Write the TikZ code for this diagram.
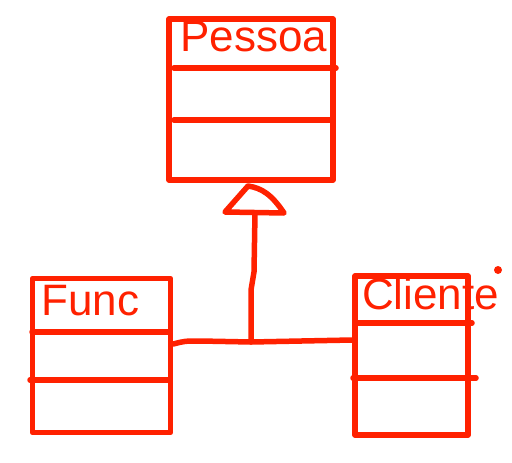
\documentclass[tikz,border=0pt]{standalone}
\usepackage{fontspec}
\setmainfont{Liberation Sans}
\definecolor{ink}{rgb}{1,0.13,0}
\begin{document}
\begin{tikzpicture}[x=1pt,y=-1pt,
  pen/.style={draw=ink,line width=5.5pt,line cap=round,line join=round},
  cls/.style={pen,rectangle,inner sep=0pt},
  title/.style={anchor=base west,inner sep=0pt,text=ink,font=\fontsize{44}{44}\selectfont}]
\useasboundingbox (0,0) rectangle (512,463);
% classes
\node[cls,minimum width=164pt,minimum height=161pt] (pessoa) at (251,99.5) {};
\node[title] (tpessoa) at (180,51) {Pessoa};
\draw[pen] (174,68) -- (336,68);
\draw[pen] (174,120) -- (333,120);

\node[cls,minimum width=138pt,minimum height=154pt] (func) at (101.5,355.5) {};
\node[title] (tfunc) at (41,315) {Func};
\draw[pen] (32,332) -- (170,332);
\draw[pen] (30,380) -- (170,380);

\node[cls,minimum width=113pt,minimum height=159pt] (cliente) at (411.5,355.5) {};
\node[title] (tcliente) at (362,309) {Cliente};
\draw[pen] (355,323) -- (472,323);
\draw[pen] (353,378) -- (476,378);
\fill[ink] (498,270) circle (4pt);

% generalization
\coordinate (apex) at (248,186);
\coordinate (tl) at (225,212);
\coordinate (tr) at (284,213);
\coordinate (tb) at (255,213);
\coordinate (j) at (251,342);
\draw[pen] (apex) -- (tl) -- (tr) .. controls (272,195) and (262,188) .. (apex);
\draw[pen] (tb) -- (254,272) -- (251,290) -- (j);
\draw[pen] (func.east |- 0,344) .. controls (185,341) .. (200,341) -- (j) -- (cliente.west |- 0,340);
\end{tikzpicture}
\end{document}
